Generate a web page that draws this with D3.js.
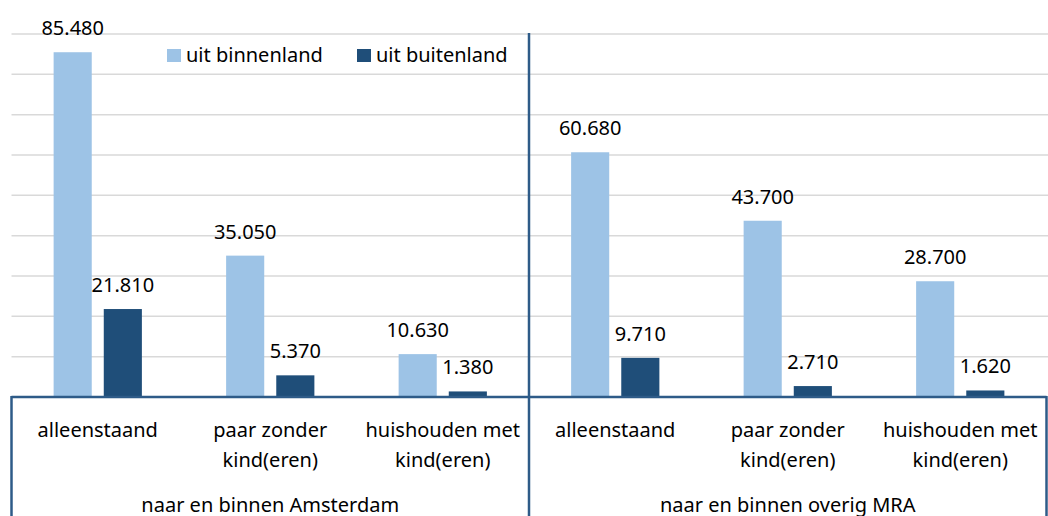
<!DOCTYPE html>
<html>
<head>
<meta charset="utf-8">
<script src="https://cdn.jsdelivr.net/npm/d3@7"></script>
<style>
  html, body { margin: 0; padding: 0; background: #fff; }
  svg { display: block; font-family: "Noto Sans", "Open Sans", sans-serif; }
</style>
</head>
<body>
<div id="chart"></div>
<script>
const WIDTH = 1048;
const HEIGHT = 516;
const LIGHT = "#9dc3e6";
const DARK = "#1f4e79";
const AXIS_COLOR = "#2e5b88";
const GRID_COLOR = "#d9d9d9";
const FONT_SIZE = 20;

// data
const groups = ["naar en binnen Amsterdam", "naar en binnen overig MRA"];
const categories = ["alleenstaand", "paar zonder kind(eren)", "huishouden met kind(eren)"];
const categoryLines = [["alleenstaand"], ["paar zonder", "kind(eren)"], ["huishouden met", "kind(eren)"]];
const seriesNames = ["uit binnenland", "uit buitenland"];
const binnenland = [85480, 35050, 10630, 60680, 43700, 28700];
const buitenland = [21810, 5370, 1380, 9710, 2710, 1620];
const yTicks = [0, 10000, 20000, 30000, 40000, 50000, 60000, 70000, 80000, 90000];

const nl = d3.formatLocale({decimal: ",", thousands: ".", grouping: [3], currency: ["€", ""]});
const fmt = nl.format(",");

// one row per category in each group
const rows = [];
groups.forEach((g, gi) => {
    categories.forEach((c, ci) => {
        const i = gi * categories.length + ci;
        rows.push({key: i, group: g, cat: c, lines: categoryLines[ci], values: [binnenland[i], buitenland[i]]});
    });
});

const plotLeft = 11.5, plotRight = 1046.5, baseline = 397, plotTop = 34;

const x = d3.scaleBand()
    .domain(rows.map(d => d.key))
    .range([plotLeft, plotRight])
    .padding(0);

const xInner = d3.scaleBand()
    .domain([0, 1])
    .range([0, x.bandwidth()])
    .paddingInner(0.24)
    .paddingOuter(0.84);

const y = d3.scaleLinear()
    .domain([0, d3.max(yTicks)])
    .range([baseline, plotTop]);

const color = d3.scaleOrdinal().domain([0, 1]).range([LIGHT, DARK]);

const svg = d3.select("#chart")
    .append("svg")
    .attr("width", WIDTH)
    .attr("height", HEIGHT);

// gridlines
svg.append("g")
    .selectAll("line")
    .data(yTicks.filter(t => t > 0))
    .enter()
    .append("line")
    .attr("x1", plotLeft)
    .attr("x2", WIDTH)
    .attr("y1", d => y(d))
    .attr("y2", d => y(d))
    .attr("stroke", GRID_COLOR)
    .attr("stroke-width", 1.5);

// bars
const cat = svg.append("g")
    .selectAll("g")
    .data(rows)
    .enter()
    .append("g")
    .attr("transform", d => `translate(${x(d.key)},0)`);

cat.selectAll("rect")
    .data(d => d.values)
    .enter()
    .append("rect")
    .attr("x", (v, i) => xInner(i))
    .attr("width", xInner.bandwidth())
    .attr("y", v => y(v))
    .attr("height", v => y(0) - y(v))
    .attr("fill", (v, i) => color(i));

cat.selectAll("text.val")
    .data(d => d.values)
    .enter()
    .append("text")
    .attr("class", "val")
    .attr("x", (v, i) => xInner(i) + xInner.bandwidth() / 2)
    .attr("y", v => y(v) - 17)
    .attr("text-anchor", "middle")
    .attr("font-size", FONT_SIZE)
    .attr("fill", "#000")
    .text(v => fmt(v));

// category labels
cat.append("text")
    .attr("text-anchor", "middle")
    .attr("font-size", FONT_SIZE)
    .attr("fill", "#000")
    .selectAll("tspan")
    .data(d => d.lines)
    .enter()
    .append("tspan")
    .attr("x", x.bandwidth() / 2)
    .attr("y", (l, i) => 437 + i * 30)
    .text(l => l);

// group labels
const groupX = gi => {
    const first = x(gi * categories.length);
    return first + x.bandwidth() * categories.length / 2;
};
svg.append("g")
    .selectAll("text")
    .data(groups)
    .enter()
    .append("text")
    .attr("x", (g, gi) => groupX(gi))
    .attr("y", 512)
    .attr("text-anchor", "middle")
    .attr("font-size", FONT_SIZE)
    .attr("fill", "#000")
    .text(g => g);

// axis lines
const axis = svg.append("g")
    .attr("stroke", AXIS_COLOR)
    .attr("stroke-width", 2.5);

axis.append("line")
    .attr("x1", plotLeft).attr("x2", plotRight)
    .attr("y1", baseline).attr("y2", baseline);

const dividers = [0, categories.length, rows.length];
axis.selectAll("line.div")
    .data(dividers)
    .enter()
    .append("line")
    .attr("class", "div")
    .attr("x1", d => d < rows.length ? x(d) : plotRight)
    .attr("x2", d => d < rows.length ? x(d) : plotRight)
    .attr("y1", d => (d === categories.length ? plotTop : baseline) - 1)
    .attr("y2", HEIGHT);

// legend
const legendPos = [167, 357];
const legend = svg.append("g")
    .selectAll("g")
    .data(seriesNames)
    .enter()
    .append("g")
    .attr("transform", (d, i) => `translate(${legendPos[i]},49)`);

legend.append("rect")
    .attr("width", 14)
    .attr("height", 13)
    .attr("fill", (d, i) => color(i));

legend.append("text")
    .attr("x", 19)
    .attr("y", 13)
    .attr("font-size", FONT_SIZE)
    .attr("fill", "#000")
    .text(d => d);
</script>
</body>
</html>
